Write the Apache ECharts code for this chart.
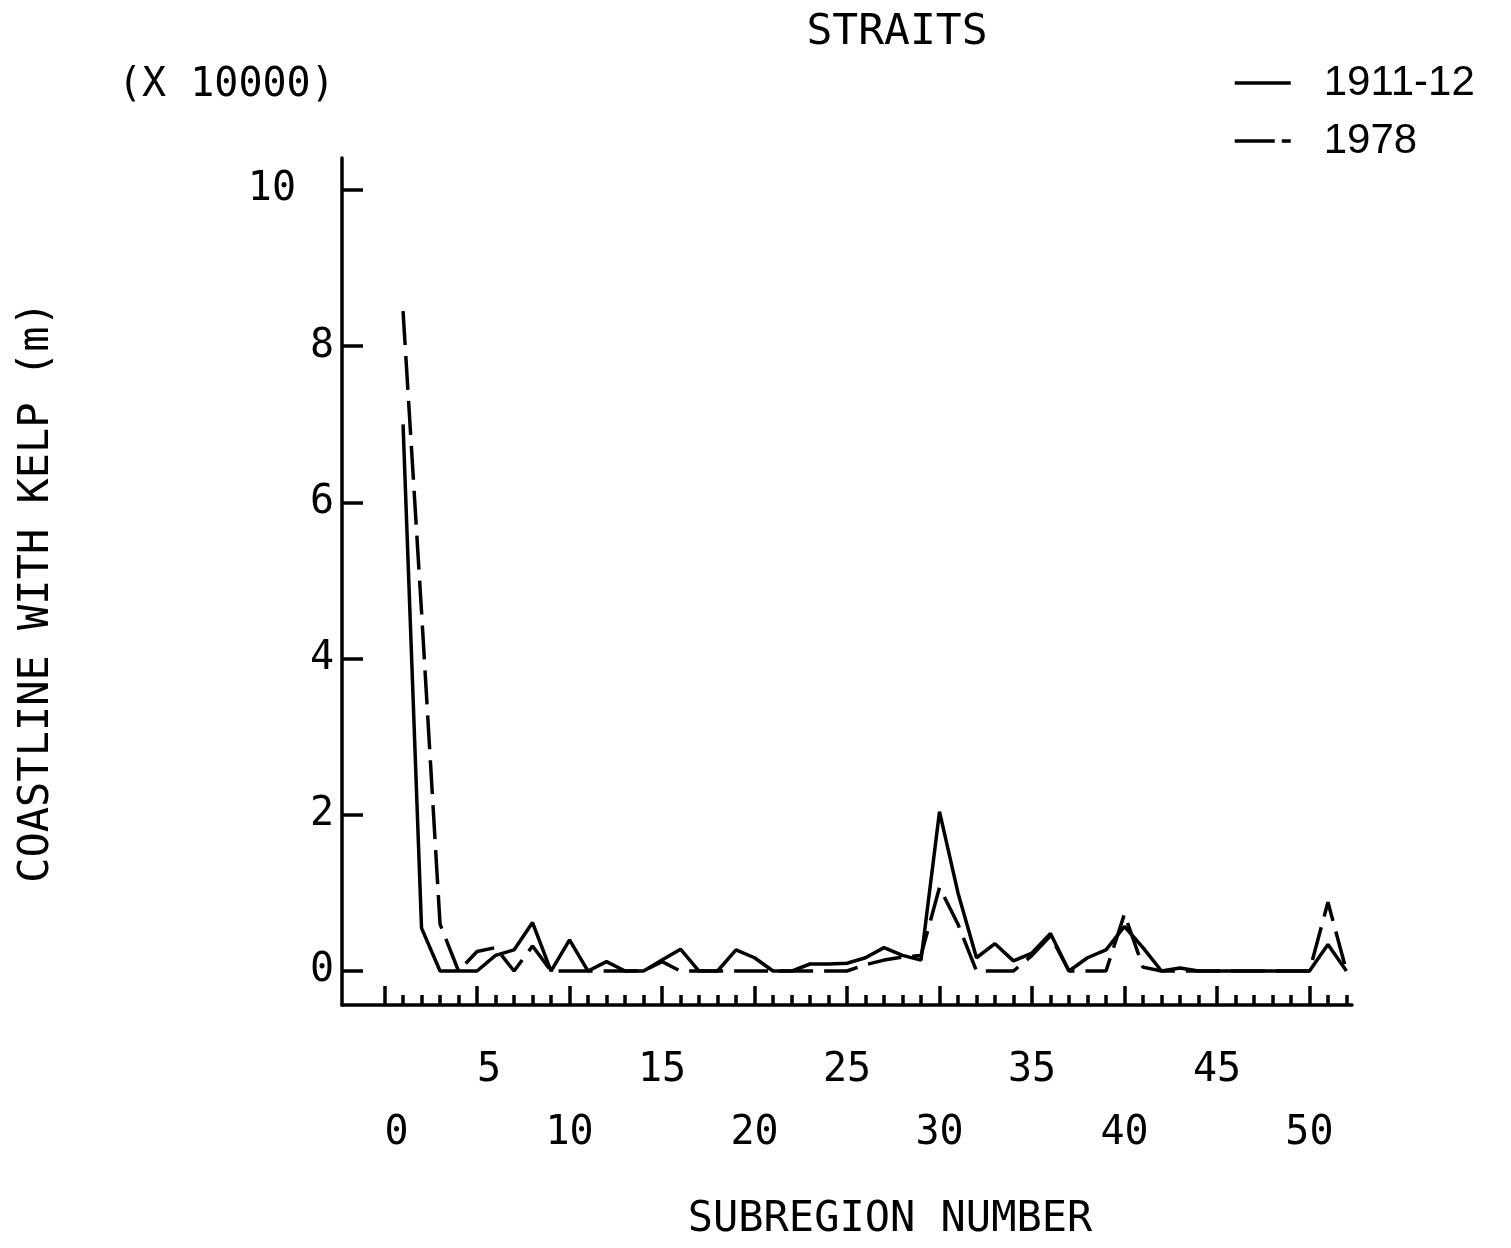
<!DOCTYPE html>
<html>
<head>
<meta charset="utf-8">
<script src="https://cdn.jsdelivr.net/npm/echarts@6/dist/echarts.min.js"></script>
<style>
html,body{margin:0;padding:0;background:#fff;}
#chart{width:1511px;height:1248px;}
</style>
</head>
<body>
<div id="chart"></div>
<script>
const subregions = [1,2,3,4,5,6,7,8,9,10,11,12,13,14,15,16,17,18,19,20,21,22,23,24,25,26,27,28,29,30,31,32,33,34,35,36,37,38,39,40,41,42,43,44,45,46,47,48,49,50,51,52];
const kelp1911 = [7.0,0.55,0,0,0,0.2,0.27,0.62,0,0.4,0,0.12,0,0,0.14,0.28,0,0,0.27,0.17,0,0,0.09,0.09,0.1,0.17,0.3,0.2,0.14,2.04,1.0,0.17,0.35,0.13,0.23,0.48,0,0.17,0.27,0.57,0.3,0,0.04,0,0,0,0,0,0,0,0.34,0];
const kelp1978 = [8.45,4.6,0.6,0,0.25,0.3,0,0.32,0,0,0,0,0,0,0.12,0,0,0,0,0,0,0,0,0,0,0.08,0.14,0.18,0.2,1.07,0.6,0,0,0,0.2,0.45,0,0,0,0.73,0.05,0,0,0,0,0,0,0,0,0,0.88,0];
const seriesNames = ['1911-12','1978'];
const yTicks = [0,2,4,6,8,10];
const xMinorTicks = [0,1,2,3,4,5,6,7,8,9,10,11,12,13,14,15,16,17,18,19,20,21,22,23,24,25,26,27,28,29,30,31,32,33,34,35,36,37,38,39,40,41,42,43,44,45,46,47,48,49,50,51,52];
const xMajorTicks = [0,5,10,15,20,25,30,35,40,45,50];
const titleText = 'STRAITS';
const scaleText = '(X 10000)';
const xTitle = 'SUBREGION NUMBER';
const yTitle = 'COASTLINE WITH KELP (m)';

const MONO = '"DejaVu Sans Mono", "Liberation Mono", monospace';
const chart = echarts.init(document.getElementById('chart'));

function pairs(vals){ return subregions.map((x,i)=>[x, vals[i]]); }

const xRange = {min:-2.3, max:52.3};
const option = {
  backgroundColor:'#fff',
  animation:false,
  grid:{left:342, right:159, top:158, bottom:243, containLabel:false},
  title:{text:titleText, left:892, top:6, textAlign:'center',
    textStyle:{fontFamily:MONO, fontSize:43, fontWeight:'normal', color:'#000'}},
  legend:{
    orient:'vertical', left:1228, top:57, itemWidth:56, itemHeight:30, itemGap:16,
    textStyle:{fontFamily:'"Liberation Sans", Arial, sans-serif', fontSize:42, color:'#000', padding:[0,0,0,28]},
    data:[
      {name:seriesNames[0], itemStyle:{opacity:0}, lineStyle:{type:'solid', width:3.5, color:'#000'}},
      {name:seriesNames[1], itemStyle:{opacity:0}, lineStyle:{type:[40,7], width:3.5, color:'#000'}}
    ]
  },
  xAxis:[{
    type:'value', position:'bottom', min:xRange.min, max:xRange.max,
    axisLine:{show:true, onZero:false, lineStyle:{color:'#000', width:3.5}},
    axisTick:{show:true, inside:true, length:10, customValues:xMinorTicks, lineStyle:{color:'#000', width:3.5}},
    axisLabel:{show:true, customValues:xMajorTicks, margin:34, color:'#000', fontFamily:MONO, fontSize:40, lineHeight:63,
      formatter:function(v){ const s = v<10 ? ' '+v : ''+v; return (v%10===0) ? '\n'+s : s; }},
    splitLine:{show:false}
  },{
    type:'value', position:'bottom', min:xRange.min, max:xRange.max,
    axisLine:{show:false, onZero:false},
    axisTick:{show:true, inside:true, length:19, customValues:xMajorTicks, lineStyle:{color:'#000', width:3.5}},
    axisLabel:{show:false},
    splitLine:{show:false}
  }],
  yAxis:{
    type:'value', min:-0.435, max:10.41,
    axisLine:{show:true, onZero:false, lineStyle:{color:'#000', width:3.5}},
    axisTick:{show:true, inside:true, length:21, customValues:yTicks, lineStyle:{color:'#000', width:3.5}},
    axisLabel:{show:true, customValues:yTicks, margin:8, color:'#000', fontFamily:MONO, fontSize:40,
      formatter:function(v){ return v===10 ? '{w|'+v+'}' : '{n|'+v+'}'; },
      rich:{
        w:{fontFamily:MONO, fontSize:40, color:'#000', padding:[0,38,0,0]},
        n:{fontFamily:MONO, fontSize:40, color:'#000'}
      }},
    splitLine:{show:false}
  },
  graphic:[
    {type:'text', left:118, top:66, style:{text:scaleText, fontFamily:MONO, fontSize:40, fill:'#000'}},
    {type:'text', x:890, y:1220, style:{text:xTitle, fontFamily:MONO, fontSize:42, fill:'#000', align:'center', verticalAlign:'middle'}},
    {type:'text', x:37, y:592, rotation:Math.PI/2, style:{text:yTitle, fontFamily:MONO, fontSize:42, fill:'#000', align:'center', verticalAlign:'middle'}}
  ],
  series:[
    {name:seriesNames[0], type:'line', data:pairs(kelp1911), symbol:'none', xAxisIndex:0,
      lineStyle:{color:'#000', width:3.5, type:'solid'}, itemStyle:{color:'#000'}},
    {name:seriesNames[1], type:'line', data:pairs(kelp1978), symbol:'none', xAxisIndex:0,
      lineStyle:{color:'#000', width:3.5, type:[34,11]}, itemStyle:{color:'#000'}}
  ]
};
chart.setOption(option);
</script>
</body>
</html>
